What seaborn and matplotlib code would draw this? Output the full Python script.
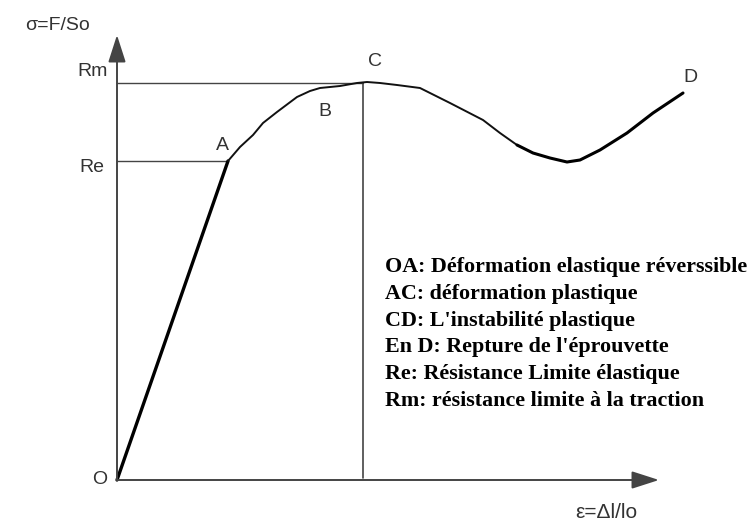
import matplotlib
matplotlib.use("Agg")
import matplotlib.pyplot as plt
import seaborn as sns
import pandas as pd

# Courbe de traction (unités arbitraires, origine en O)
elastic_x = [0, 111]
elastic_y = [0, 319]

plastic_x = [111, 123, 136, 146, 160, 180, 193, 203, 223, 240, 250, 263, 280, 303, 333, 366, 383, 400]
plastic_y = [319, 333, 345, 357, 368, 383, 389, 392, 394, 397, 398, 397, 395, 392, 377, 360, 347, 335]

necking_x = [400, 416, 433, 450, 463, 483, 510, 536, 566]
necking_y = [335, 327, 322, 318, 320, 330, 347, 367, 387]

Re, Rm = 319, 397
x_A, x_C = 111, 246

points = ["A", "B", "C", "D"]
points_x = [105, 208, 258, 573]
points_y = [335, 368, 418, 402]

legend_lines = [
    "OA: Déformation elastique réverssible",
    "AC: déformation plastique",
    "CD: L'instabilité plastique",
    "En D: Repture de l'éprouvette",
    "Re: Résistance Limite élastique",
    "Rm: résistance limite à la traction",
]

sns.set_theme(style="white")
plt.rcParams['font.family'] = ['Liberation Sans', 'DejaVu Sans']

fig = plt.figure(figsize=(7.52, 5.22), dpi=100)
ax = fig.add_axes([0, 0, 1, 1])
ax.set_xlim(-117, 635)
ax.set_ylim(-42, 480)

grey = "#444444"

# axes avec flèches
ax.annotate("", xy=(542, 0), xytext=(0, 0),
            arrowprops=dict(arrowstyle="-|>,head_length=1.4,head_width=0.45",
                            color=grey, lw=1.4, shrinkA=0, shrinkB=0))
ax.annotate("", xy=(0, 445), xytext=(0, 0),
            arrowprops=dict(arrowstyle="-|>,head_length=1.4,head_width=0.45",
                            color=grey, lw=1.4, shrinkA=0, shrinkB=0))

# lignes de repère Re, Rm, C
ax.plot([0, x_A], [Re, Re], color=grey, lw=1.0)
ax.plot([0, x_C], [Rm, Rm], color=grey, lw=1.0)
ax.plot([x_C, x_C], [2, Rm], color=grey, lw=1.2)

df_el = pd.DataFrame({"x": elastic_x, "y": elastic_y})
df_pl = pd.DataFrame({"x": plastic_x, "y": plastic_y})
df_nk = pd.DataFrame({"x": necking_x, "y": necking_y})
style = dict(sort=False, ax=ax, solid_joinstyle="round", solid_capstyle="round")
sns.lineplot(data=df_el, x="x", y="y", color="black", lw=2.4, **style)
sns.lineplot(data=df_pl, x="x", y="y", color="#111111", lw=1.4, **style)
sns.lineplot(data=df_nk, x="x", y="y", color="black", lw=2.2, **style)
ax.axis("off")

lab = dict(color="#333333", fontsize=14, ha="center", va="center")
for name, px, py in zip(points, points_x, points_y):
    ax.text(px, py, name, **lab)
ax.text(-24, 408, "Rm", **lab)
ax.text(-25, 312, "Re", **lab)
ax.text(-17, 0, "O", **lab)
ax.text(-60, 455, "σ=F/So", **lab)
ax.text(489, -32, "ε=Δl/lo", color="#333333", fontsize=15, ha="center", va="center")

for i, line in enumerate(legend_lines):
    ax.text(268, 213 - 26.8 * i, line, fontsize=15.8, fontweight="bold",
            family=["Liberation Serif", "DejaVu Serif"], color="black",
            ha="left", va="center")

fig.savefig("out.png", dpi=100)
